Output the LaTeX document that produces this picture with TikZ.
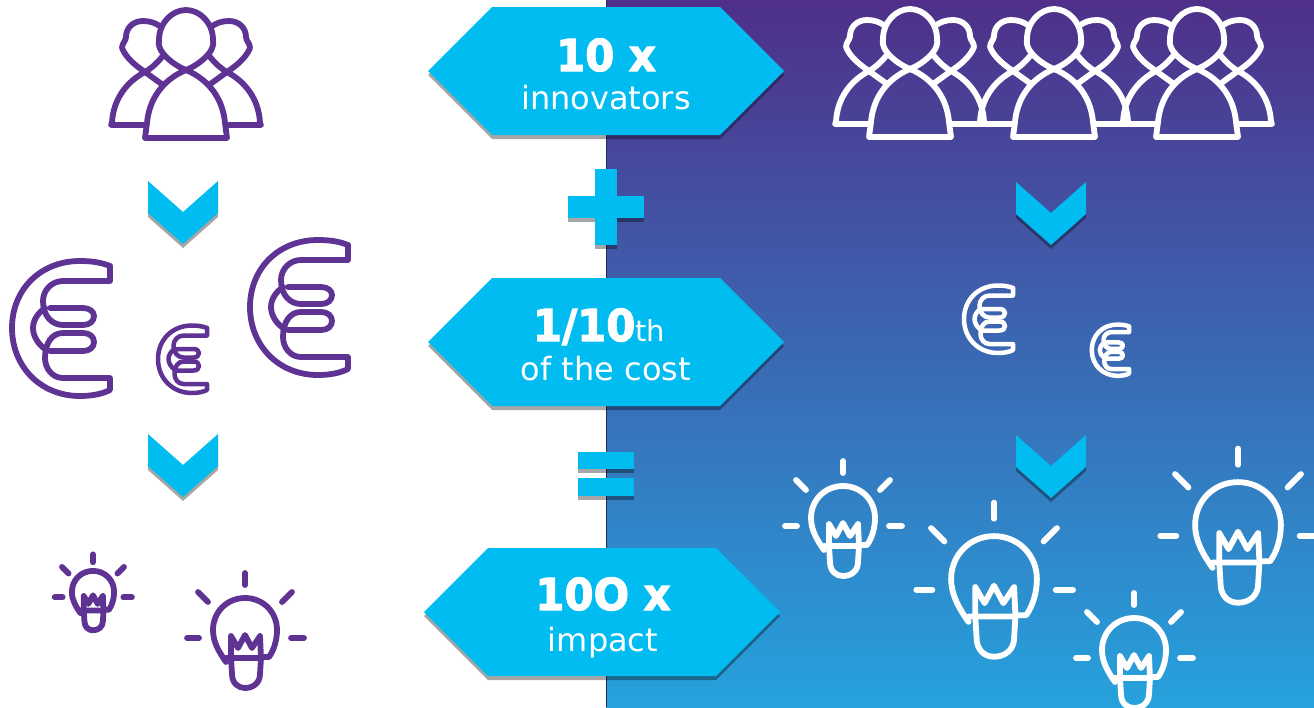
\documentclass[tikz,border=0pt]{standalone}
\usepackage{xcolor}
\usepackage{fontspec}
\setmainfont[BoldFeatures={FakeBold=2.5,FakeStretch=.95}]{DejaVu Sans}
\definecolor{hexblue}{RGB}{0,188,240}
\definecolor{iconpurple}{RGB}{95,51,147}
\definecolor{bandtop}{RGB}{79,47,137}
\definecolor{bandbottom}{RGB}{38,162,221}
\definecolor{bandedge}{RGB}{30,45,85}
\tikzset{
  shadowfill/.style={fill=black, fill opacity=.35},
  blockfill/.style={fill=hexblue},
  iconline/.style={line width=5.8pt, line join=round, line cap=round},
  figtext/.style={font=\fontsize{44}{50}\bfseries\selectfont, text=white, anchor=base, inner sep=0pt},
  wordtext/.style={font=\fontsize{32}{38}\selectfont, text=white, anchor=base, inner sep=0pt},
  hexa/.pic={
    \fill[shadowfill, shift={(0,4)}] (-178,0) -- (-114,-64) -- (114,-64) -- (178,0) -- (114,64) -- (-114,64) -- cycle;
    \fill[blockfill] (-178,0) -- (-114,-64) -- (114,-64) -- (178,0) -- (114,64) -- (-114,64) -- cycle;
  },
  chevron/.pic={
    \fill[shadowfill, shift={(0,4)}] (-35,0) -- (0,31) -- (35,0) -- (35,32) -- (0,63) -- (-35,32) -- cycle;
    \fill[blockfill] (-35,0) -- (0,31) -- (35,0) -- (35,32) -- (0,63) -- (-35,32) -- cycle;
  },
  people/.pic={
    \foreach \side in {1,-1}{
      \begin{scope}[xscale=\side]
        % back person
        \draw (-25,-43) .. controls (-30,-47) and (-36,-49) .. (-43,-49) .. controls (-53,-49) and (-60,-42) .. (-60,-33) .. controls (-60,-29) and (-64,-27) .. (-64,-22) .. controls (-60,-12) and (-50,-4) .. (-41,2) .. controls (-34,-2) and (-28,-8) .. (-24,-13);
        \draw (-41,2) .. controls (-60,12) and (-73,30) .. (-74,53) -- (-75,55) -- (-40,55);
        \draw (-41,2) -- (-23,15);
        % front person
        \draw (0,0) .. controls (-10,-4) and (-19,-11) .. (-24,-18) .. controls (-26,-21) and (-28,-25) .. (-27,-30) .. controls (-27,-47) and (-14,-60) .. (0,-60);
        \draw (0,0) .. controls (-24,10) and (-37,30) .. (-39,53) -- (-41,68) -- (0,68);
      \end{scope}
    }
  },
  euro/.pic={
    % outer ring and lower bar
    \draw (50,-62) .. controls (40,-66) and (30,-67) .. (20,-67) .. controls (-20,-67) and (-48,-38) .. (-48,0) .. controls (-48,38) and (-20,68) .. (20,68) .. controls (32,68) and (42,66) .. (50,62) -- (50,50) -- (3,50) .. controls (-8,50) and (-15,40) .. (-15,30) .. controls (-15,15) and (-8,5) .. (3,5) -- (23,5) .. controls (30,5) and (34,9) .. (34,14) .. controls (34,19) and (30,23) .. (23,23) -- (-10,23);
    % upper bar
    \draw (50,-62) -- (50,-47) -- (3,-47) .. controls (-8,-47) and (-17,-38) .. (-17,-27) .. controls (-17,-12) and (-8,-3) .. (3,-3) -- (23,-3) .. controls (30,-3) and (34,-7) .. (34,-12) .. controls (34,-16) and (30,-20) .. (23,-20) -- (-10,-20);
    % middle bump
    \draw (-15,-20) .. controls (-22,-15) and (-27,-8) .. (-27,0) .. controls (-27,8) and (-22,16) .. (-15,21);
  },
  bulb/.pic={
    % glass
    \draw (16,27) -- (24,27) .. controls (29,20) and (32,10) .. (32,0) .. controls (32,-18) and (18,-32) .. (0,-32) .. controls (-18,-32) and (-32,-18) .. (-32,0) .. controls (-32,12) and (-26,22) .. (-19,32);
    % socket
    \draw (-19,28) -- (16,28) -- (15,44) .. controls (15,53) and (8,58) .. (0,58) .. controls (-7,58) and (-13,53) .. (-13,44) -- (-14,28);
    % filament
    \draw (-14,28) -- (-14,6) -- (-7,18) -- (0,5) -- (7,18) -- (15,6) -- (16,28);
    % rays
    \draw (0,-57) -- (0,-45);
    \draw (-47,-38) -- (-37,-28);
    \draw (47,-38) -- (37,-28);
    \draw (-58,8) -- (-46,8);
    \draw (46,8) -- (59,8);
  }
}

\begin{document}
\begin{tikzpicture}[x=1pt, y=-1pt]
  \useasboundingbox (0,0) rectangle (1314,707);
  \clip (0,0) rectangle (1314,707);

  % background band
  \shade[top color=bandtop, bottom color=bandbottom] (606,0) rectangle (1314,707);
  \draw[bandedge, line width=1pt] (606,0) -- (606,707);

  % middle column
  \pic (hexA) at (606,71) {hexa};
  \pic (hexB) at (606,342) {hexa};
  \pic (hexC) at (602,612) {hexa};
  \node[figtext] (tenx) at (606,71) {10 x};
  \node[wordtext] (innovators) at (606,109) {innovators};
  \node[figtext] (tenth) at (599,341) {1/10{\fontsize{29}{34}\mdseries\selectfont th}};
  \node[wordtext] (cost) at (606,380) {of the cost};
  \node[figtext] (hundredx) at (603,610) {10O x};
  \node[wordtext] (impact) at (603,651) {impact};

  % plus
  \fill[shadowfill] (595,173) rectangle (617,249);
  \fill[shadowfill] (568,200) rectangle (595,222);
  \fill[shadowfill] (617,200) rectangle (644,222);
  \fill[blockfill] (595,169) rectangle (617,245);
  \fill[blockfill] (568,196) rectangle (644,218);

  % equals
  \fill[shadowfill] (578,456) rectangle (634,473);
  \fill[shadowfill] (578,482) rectangle (634,500);
  \fill[blockfill] (578,452) rectangle (634,469);
  \fill[blockfill] (578,478) rectangle (634,496);

  % chevrons
  \pic (downA) at (183,181) {chevron};
  \pic (downB) at (183,434) {chevron};
  \pic (downC) at (1051,182) {chevron};
  \pic (downD) at (1051,435) {chevron};

  % left side, purple
  \pic[iconline, iconpurple] (crowdL) at (186,70) {people};
  \pic[iconline, iconpurple] (euroA) at (60,328) {euro};
  \pic[iconline, iconpurple] (euroB) at (298,307) {euro};
  \pic[iconline, iconpurple, scale=.5, line width=4.5pt] (euroC) at (182,359) {euro};
  \pic[iconline, iconpurple, scale=.66] (bulbA) at (93,592) {bulb};
  \pic[iconline, iconpurple] (bulbB) at (245,630) {bulb};

  % right side, white
  \pic[iconline, white] (crowdA) at (910,69) {people};
  \pic[iconline, white] (crowdB) at (1054,69) {people};
  \pic[iconline, white] (crowdC) at (1197,69) {people};
  \pic[iconline, white, scale=.5, line width=4.5pt] (euroD) at (988,319) {euro};
  \pic[iconline, white, scale=.38, line width=4.5pt] (euroE) at (1110,350) {euro};
  \pic[iconline, white] (bulbC) at (843,518) {bulb};
  \pic[iconline, white, scale=1.34] (bulbD) at (994,579) {bulb};
  \pic[iconline, white, scale=1.34] (bulbE) at (1238,525) {bulb};
  \pic[iconline, white] (bulbF) at (1134,650) {bulb};
\end{tikzpicture}
\end{document}
